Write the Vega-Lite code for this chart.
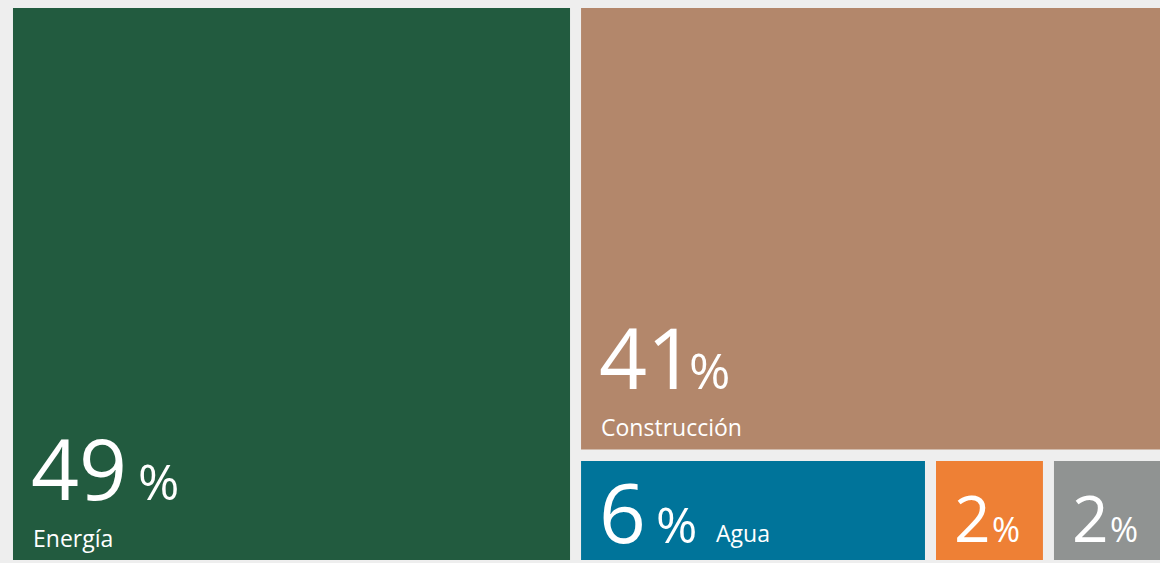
{
  "$schema": "https://vega.github.io/schema/vega-lite/v6.json",
  "width": 1160,
  "height": 563,
  "autosize": {"type": "fit", "contains": "padding"},
  "padding": 0,
  "background": "#eeeeee",
  "config": {"view": {"stroke": null}, "text": {"font": "Open Sans", "color": "white", "align": "left", "baseline": "alphabetic"}},
  "data": {
    "values": [
      {"cat": "Energía", "pct": 49, "x0": 1.12, "x1": 49.14, "y0": 1.42, "y1": 99.47},
      {"cat": "Construcción", "pct": 41, "x0": 50.09, "x1": 100, "y0": 1.42, "y1": 79.84},
      {"cat": "Agua", "pct": 6, "x0": 50.09, "x1": 79.74, "y0": 81.88, "y1": 99.47},
      {"cat": "Otro sector A", "pct": 2, "x0": 80.69, "x1": 89.91, "y0": 81.88, "y1": 99.47},
      {"cat": "Otro sector B", "pct": 2, "x0": 90.86, "x1": 100, "y0": 81.88, "y1": 99.47}
    ]
  },
  "encoding": {
    "x": {"field": "x0", "type": "quantitative", "scale": {"domain": [0, 100], "nice": false, "zero": false}, "axis": null},
    "y": {"field": "y1", "type": "quantitative", "scale": {"domain": [0, 100], "nice": false, "zero": false, "reverse": true}, "axis": null}
  },
  "layer": [
    {
      "mark": {"type": "rect"},
      "encoding": {
        "x2": {"field": "x1"},
        "y": {"field": "y0", "type": "quantitative", "scale": {"domain": [0, 100], "nice": false, "zero": false, "reverse": true}, "axis": null},
        "y2": {"field": "y1"},
        "color": {
          "field": "cat", "type": "nominal", "legend": null,
          "scale": {"domain": ["Energía", "Construcción", "Agua", "Otro sector A", "Otro sector B"],
                    "range": ["#225b3f", "#b3876b", "#00749a", "#ee8035", "#909392"]}
        }
      }
    },
    {
      "transform": [{"filter": "datum.pct > 40"}],
      "mark": {"type": "text", "fontSize": 84, "dx": 18, "dy": -60},
      "encoding": {"text": {"field": "pct", "type": "quantitative"}}
    },
    {
      "transform": [{"filter": "datum.cat == 'Agua'"}],
      "mark": {"type": "text", "fontSize": 82, "dx": 18, "dy": -17},
      "encoding": {"text": {"field": "pct", "type": "quantitative"}}
    },
    {
      "transform": [{"filter": "datum.pct < 5"}],
      "mark": {"type": "text", "fontSize": 64, "dx": 18, "dy": -18},
      "encoding": {"text": {"field": "pct", "type": "quantitative"}}
    },
    {
      "transform": [{"filter": "datum.cat == 'Energía'"}],
      "mark": {"type": "text", "fontSize": 50, "fontWeight": 500, "dx": 125, "dy": -60},
      "encoding": {"text": {"value": "%"}}
    },
    {
      "transform": [{"filter": "datum.cat == 'Construcción'"}],
      "mark": {"type": "text", "fontSize": 50, "fontWeight": 500, "dx": 108, "dy": -60},
      "encoding": {"text": {"value": "%"}}
    },
    {
      "transform": [{"filter": "datum.cat == 'Agua'"}],
      "mark": {"type": "text", "fontSize": 50, "fontWeight": 500, "dx": 75, "dy": -17},
      "encoding": {"text": {"value": "%"}}
    },
    {
      "transform": [{"filter": "datum.pct < 5"}],
      "mark": {"type": "text", "fontSize": 34, "fontWeight": 500, "dx": 56, "dy": -18},
      "encoding": {"text": {"value": "%"}}
    },
    {
      "transform": [{"filter": "datum.pct > 40"}],
      "mark": {"type": "text", "fontSize": 23, "dx": 20, "dy": -13},
      "encoding": {"text": {"field": "cat", "type": "nominal"}}
    },
    {
      "transform": [{"filter": "datum.cat == 'Agua'"}],
      "mark": {"type": "text", "fontSize": 23, "dx": 135, "dy": -18},
      "encoding": {"text": {"field": "cat", "type": "nominal"}}
    }
  ]
}
